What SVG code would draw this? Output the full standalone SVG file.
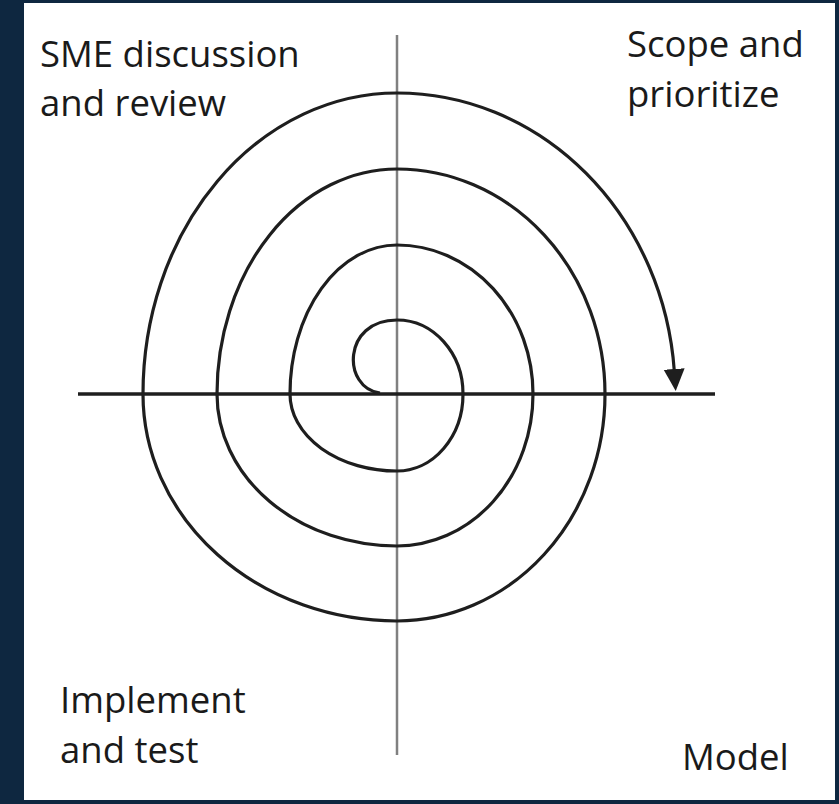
<svg xmlns="http://www.w3.org/2000/svg" width="839" height="804" viewBox="0 0 839 804">
<style>
.lbl{font-family:"Open Sans","Noto Sans",sans-serif;font-size:36.5px;fill:#1a1a1a}
.sp{fill:none;stroke:#1e1e1e;stroke-width:3.2}
</style>
<defs>
<marker id="ah" markerUnits="userSpaceOnUse" markerWidth="24" markerHeight="24" viewBox="0 0 24 24" refX="2" refY="12" orient="auto">
<path d="M0,1.5 L22,12 L0,22.5 Z" fill="#1e1e1e"/>
</marker>
</defs>
<rect x="0" y="0" width="839" height="804" fill="#0e2740"/>
<rect x="24" y="3" width="811" height="797" fill="#ffffff"/>
<g id="axes">
<line x1="397" y1="35" x2="397" y2="755" stroke="#808080" stroke-width="2.5"/>
<line x1="78" y1="394" x2="715" y2="394" stroke="#1e1e1e" stroke-width="3.5"/>
</g>
<g id="connectors">
<path id="spiral" class="sp" marker-end="url(#ah)" d="M380,393 C342,388 342,320 397,320 A66,74 0 0 1 463,394 A66,77 0 0 1 397,471 A107,77 0 0 1 290,394 A107,149 0 0 1 397,245 A136,149 0 0 1 533,394 A136,152 0 0 1 397,546 A180,152 0 0 1 217,394 A180,225 0 0 1 397,169 A208,225 0 0 1 605,394 A208,227 0 0 1 397,621 A254,227 0 0 1 143,394 A254,301 0 0 1 397,93 A278,301 0 0 1 674.3,371"/>
</g>
<g id="node-sme"><text class="lbl" x="40" y="67">SME discussion</text><text class="lbl" x="40" y="116">and review</text></g>
<g id="node-scope"><text class="lbl" x="627" y="57">Scope and</text><text class="lbl" x="627" y="107">prioritize</text></g>
<g id="node-implement"><text class="lbl" x="60" y="713">Implement</text><text class="lbl" x="60" y="763">and test</text></g>
<g id="node-model"><text class="lbl" x="682" y="770">Model</text></g>
</svg>
